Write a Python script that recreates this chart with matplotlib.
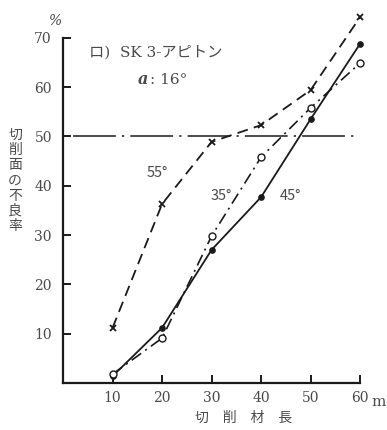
import numpy as np
import matplotlib.pyplot as plt

plt.rcParams['font.family'] = ['Noto Sans CJK JP', 'DejaVu Sans']

length_m = [10, 20, 30, 40, 50, 60]
rate_55 = [11.2, 36.3, 48.9, 52.3, 59.4, 74.2]
rate_45 = [1.4, 11.2, 27.0, 37.7, 53.5, 68.8]
rate_35 = [1.8, 9.1, 29.8, 45.8, 55.8, 64.9]
limit_rate = 50

x_ticks = [10, 20, 30, 40, 50, 60]
y_ticks = [10, 20, 30, 40, 50, 60, 70]

ink = '#1a1a1a'
text_c = '#4a4a4a'
num_font = {'family': ['DejaVu Serif'], 'color': text_c}

fig = plt.figure(figsize=(3.87, 4.30), dpi=100)
ax = fig.add_axes([0.163, 0.1093, 0.793, 0.86])
ax.set_xlim(0, 62)
ax.set_ylim(0, 75)

for s in ['top', 'right']:
    ax.spines[s].set_visible(False)
ax.spines['left'].set_bounds(0, 70)
ax.spines['bottom'].set_bounds(0, 60)
for s in ['left', 'bottom']:
    ax.spines[s].set_linewidth(1.6)
    ax.spines[s].set_color(ink)

ax.set_xticks(x_ticks)
ax.set_yticks(y_ticks)
ax.set_xticklabels([str(v) for v in x_ticks], fontdict=num_font, fontsize=10)
ax.set_yticklabels([str(v) for v in y_ticks], fontdict=num_font, fontsize=10)
ax.tick_params(direction='in', length=6, width=1.4, color=ink)
ax.tick_params(axis='x', pad=6)
ax.tick_params(axis='y', pad=8)

# 50% reference line
ax.plot([2, 59], [limit_rate, limit_rate], color=ink, lw=1.1,
        dashes=(28, 4, 1.5, 4))

# 55 deg: dashed, crosses
ax.plot(length_m, rate_55, color=ink, lw=1.3, dashes=(6, 3.5),
        marker='x', ms=5, mew=1.3, clip_on=False)
# 45 deg: solid, filled dots
ax.plot(length_m, rate_45, color=ink, lw=1.3, marker='o', ms=3.8,
        mfc=ink, mec=ink, clip_on=False)
# 35 deg: dash-dot, open circles
ax.plot(length_m, rate_35, color=ink, lw=1.2, dashes=(7, 3, 1.2, 3),
        marker='o', ms=5, mfc='white', mec=ink, mew=1.0, clip_on=False)

ax.text(5.3, 67, 'ロ)  SK 3-アピトン', fontsize=11, color=text_c, va='center',
        family=['DejaVu Serif', 'Noto Sans CJK JP'])
ax.text(15, 61.5, 'a', fontsize=11.5, color=text_c, va='center',
        family=['DejaVu Serif'], weight='bold', style='italic')
ax.text(17.6, 61.5, ': 16°', fontsize=11, color=text_c, va='center',
        family=['DejaVu Serif'])
ax.text(19, 42.6, '55°', fontsize=10.5, color=text_c, ha='center', va='center')
ax.text(32, 38, '35°', fontsize=10.5, color=text_c, ha='center', va='center')
ax.text(46, 38, '45°', fontsize=10.5, color=text_c, ha='center', va='center')

ax.text(-1.5, 73.5, '%', fontsize=10, color=text_c, ha='center', va='center',
        style='italic', family=['DejaVu Serif'])
ax.text(62.2, -3.9, 'm', fontsize=11, color=text_c, ha='left', va='center',
        family=['DejaVu Serif'], clip_on=False)

fig.text(0.039, 0.58, '切\n削\n面\nの\n不\n良\n率', fontsize=10, color=text_c,
         ha='center', va='center', linespacing=1.1)
fig.text(0.63, 0.028, '切　削　材　長', fontsize=10, color=text_c,
         ha='center', va='center')

fig.savefig('out.png', dpi=100)
